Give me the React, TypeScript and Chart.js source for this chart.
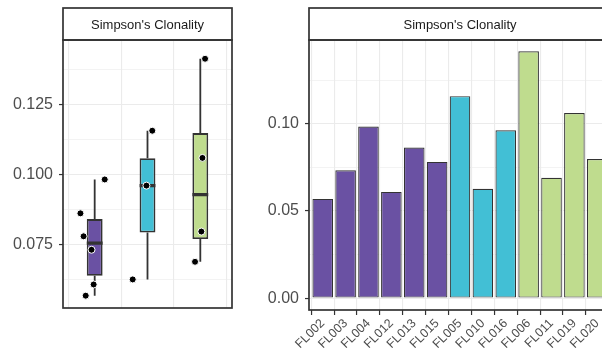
import React, { useEffect, useRef } from "react";
import { Chart, registerables } from "chart.js";

Chart.register(...registerables);

// ---- data ----
const samples = ["FL002", "FL003", "FL004", "FL012", "FL013", "FL015", "FL005", "FL010", "FL016", "FL006", "FL011", "FL019", "FL020"];
const clonality = [0.0569, 0.0733, 0.0984, 0.0609, 0.0863, 0.0781, 0.1158, 0.0627, 0.0962, 0.1415, 0.069, 0.1061, 0.0798];
const groupOf = [0, 0, 0, 0, 0, 0, 1, 1, 1, 2, 2, 2, 2];
const jitterX = [-0.17, -0.06, 0.19, -0.02, -0.27, -0.21, 0.09, -0.28, -0.02, 0.09, -0.1, 0.04, 0.02];
const groupColors = ["#6A51A3", "#42BFD5", "#BFDC8E"];
const stripTitle = "Simpson's Clonality";
const leftMajorTicks = [0.075, 0.1, 0.125];
const leftMinorTicks = [0.0625, 0.0875, 0.1125, 0.1375];
const rightMajorTicks = [0, 0.05, 0.1];
const rightMinorTicks = [0.025, 0.075, 0.125];

const FONT = "'Liberation Sans', Arial, sans-serif";
const DARK = "#333333";
const GRID = "#EBEBEB";
const TICKTXT = "#4D4D4D";

function quantile(sorted: number[], p: number) {
  const pos = (sorted.length - 1) * p;
  const lo = Math.floor(pos);
  const hi = Math.ceil(pos);
  return sorted[lo] + (sorted[hi] - sorted[lo]) * (pos - lo);
}

function boxStats(g: number) {
  const vals = clonality.filter((_, i) => groupOf[i] === g).sort((a, b) => a - b);
  const q1 = quantile(vals, 0.25);
  const med = quantile(vals, 0.5);
  const q3 = quantile(vals, 0.75);
  const iqr = q3 - q1;
  const lo = Math.min(...vals.filter((v) => v >= q1 - 1.5 * iqr));
  const hi = Math.max(...vals.filter((v) => v <= q3 + 1.5 * iqr));
  return { q1, med, q3, lo, hi };
}

const panelPlugin = {
  id: "panel",
  afterDraw(chart: any) {
    const { ctx, chartArea } = chart;
    const { left, right, top, bottom } = chartArea;
    ctx.save();
    // strip
    ctx.fillStyle = "#FFFFFF";
    ctx.fillRect(left, 8, right - left, top - 8);
    ctx.strokeStyle = DARK;
    ctx.lineWidth = 1.7;
    ctx.strokeRect(left, 8, right - left, top - 8);
    ctx.fillStyle = "#1A1A1A";
    ctx.font = `13px ${FONT}`;
    ctx.textAlign = "center";
    ctx.textBaseline = "middle";
    ctx.fillText(stripTitle, (left + right) / 2, (8 + top) / 2 + 1);
    // panel border
    ctx.strokeRect(left, top, right - left, bottom - top);
    ctx.restore();
  },
};

function isMajor(v: number, majors: number[]) {
  return majors.some((m) => Math.abs(m - v) < 1e-9);
}

function yScale(min: number, max: number, majors: number[], minors: number[], width: number, fmt: (v: number) => string) {
  return {
    type: "linear",
    min,
    max,
    afterBuildTicks: (s: any) => {
      s.ticks = [...minors, ...majors].sort((a, b) => a - b).map((v) => ({ value: v }));
    },
    afterFit: (s: any) => {
      s.width = width;
    },
    ticks: {
      autoSkip: false,
      padding: 6,
      color: TICKTXT,
      font: { family: FONT, size: 16 },
      callback: (v: number) => (isMajor(v, majors) ? fmt(v) : ""),
    },
    grid: {
      color: GRID,
      lineWidth: (c: any) => (c.tick && isMajor(c.tick.value, majors) ? 1.1 : 0.6),
      tickColor: (c: any) => (c.tick && isMajor(c.tick.value, majors) ? DARK : "rgba(0,0,0,0)"),
      tickLength: 4,
      tickWidth: 1.2,
    },
    border: { display: false },
  };
}

function LeftChart() {
  const ref = useRef<HTMLCanvasElement>(null);
  useEffect(() => {
    const whiskers: any[] = [];
    const medians: any[] = [];
    const boxes: any[] = [];
    [0, 1, 2].forEach((g) => {
      const s = boxStats(g);
      const x = g + 1;
      whiskers.push({ x, y: s.lo }, { x, y: s.q1 }, { x, y: null }, { x, y: s.q3 }, { x, y: s.hi }, { x, y: null });
      medians.push({ x: x - 0.15, y: s.med }, { x: x + 0.15, y: s.med }, { x, y: null });
      boxes.push({ x, y: [s.q1, s.q3] });
    });
    const points = clonality.map((v, i) => ({ x: groupOf[i] + 1 + jitterX[i], y: v }));
    const chart = new Chart(ref.current as HTMLCanvasElement, {
      type: "bar",
      data: {
        datasets: [
          {
            type: "scatter",
            data: points,
            backgroundColor: "#000000",
            borderColor: "#FFFFFF",
            borderWidth: 1,
            pointRadius: 3.5,
            order: 1,
          } as any,
          {
            type: "line",
            data: medians,
            borderColor: DARK,
            borderWidth: 3.2,
            borderCapStyle: "butt",
            pointRadius: 0,
            spanGaps: false,
            order: 2,
          } as any,
          {
            type: "bar",
            data: boxes,
            backgroundColor: groupColors,
            borderColor: DARK,
            borderWidth: 1.8,
            borderSkipped: false,
            categoryPercentage: 1,
            barPercentage: 0.3,
            order: 3,
          } as any,
          {
            type: "line",
            data: whiskers,
            borderColor: DARK,
            borderWidth: 1.8,
            pointRadius: 0,
            spanGaps: false,
            order: 4,
          } as any,
        ],
      },
      options: {
        animation: false,
        responsive: false,
        devicePixelRatio: 1,
        layout: { padding: { top: 40, right: 18, left: 0, bottom: 0 } },
        plugins: { legend: { display: false }, tooltip: { enabled: false } },
        scales: {
          x: {
            type: "linear",
            min: 0.4,
            max: 3.6,
            offset: false,
            afterBuildTicks: (s: any) => {
              s.ticks = [1, 2, 3].map((v) => ({ value: v }));
            },
            afterFit: (s: any) => {
              s.height = 42;
            },
            ticks: { display: false },
            grid: { color: GRID, lineWidth: 1.1, drawTicks: false },
            border: { display: false },
          },
          y: yScale(0.0525, 0.1482, leftMajorTicks, leftMinorTicks, 63, (v) => v.toFixed(3)),
        } as any,
      },
      plugins: [panelPlugin],
    });
    return () => chart.destroy();
  }, []);
  return <canvas ref={ref} width={250} height={350} style={{ position: "absolute", left: 0, top: 0, width: 250, height: 350 }} />;
}

function RightChart() {
  const ref = useRef<HTMLCanvasElement>(null);
  useEffect(() => {
    const bars = clonality.map((v, i) => ({ x: i + 1, y: v }));
    const chart = new Chart(ref.current as HTMLCanvasElement, {
      type: "bar",
      data: {
        datasets: [
          {
            data: bars,
            backgroundColor: groupOf.map((g) => groupColors[g]),
            borderColor: DARK,
            borderWidth: 1.2,
            borderSkipped: false,
            categoryPercentage: 1,
            barPercentage: 0.9,
          } as any,
        ],
      },
      options: {
        animation: false,
        responsive: false,
        devicePixelRatio: 1,
        layout: { padding: { top: 40, right: 9, left: 0, bottom: 0 } },
        plugins: { legend: { display: false }, tooltip: { enabled: false } },
        scales: {
          x: {
            type: "linear",
            min: 0.4,
            max: samples.length + 0.6,
            offset: false,
            afterBuildTicks: (s: any) => {
              s.ticks = samples.map((_, i) => ({ value: i + 1 }));
            },
            afterFit: (s: any) => {
              s.height = 40;
            },
            ticks: {
              autoSkip: false,
              minRotation: 45,
              maxRotation: 45,
              padding: 1,
              color: TICKTXT,
              font: { family: FONT, size: 12.5 },
              callback: (v: number) => samples[Math.round(v) - 1] ?? "",
            },
            grid: { color: GRID, lineWidth: 1.1, tickColor: DARK, tickLength: 5, tickWidth: 1.2 },
            border: { display: false },
          },
          y: yScale(-0.0068, 0.148, rightMajorTicks, rightMinorTicks, 59, (v) => v.toFixed(2)),
        } as any,
      },
      plugins: [panelPlugin],
    });
    return () => chart.destroy();
  }, []);
  return <canvas ref={ref} width={370} height={350} style={{ position: "absolute", left: 250, top: 0, width: 370, height: 350 }} />;
}

export default function App() {
  useEffect(() => {
    document.body.style.margin = "0";
    document.body.style.overflow = "hidden";
  }, []);
  return (
    <div style={{ position: "fixed", left: 0, top: 0, width: 602, height: 350, overflow: "hidden", background: "#FFFFFF" }}>
      <LeftChart />
      <RightChart />
    </div>
  );
}
